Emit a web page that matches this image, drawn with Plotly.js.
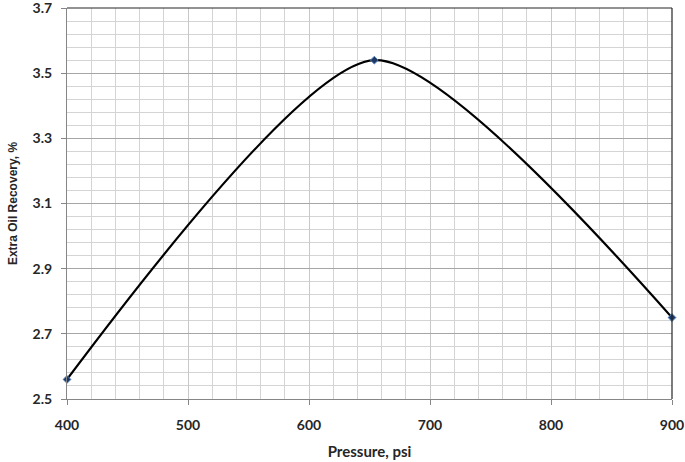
<!DOCTYPE html>
<html>
<head>
<meta charset="utf-8">
<script src="https://cdn.plot.ly/plotly-3.0.1.min.js"></script>
<style>
  html, body { margin: 0; padding: 0; background: #fff; }
  #chart { width: 685px; height: 462px; }
</style>
</head>
<body>
<div id="chart"></div>
<script>
  // pressure (psi) vs extra oil recovery (%)
  const pressure = [400, 654, 900];
  const recovery = [2.56, 3.54, 2.75];
  const xTicks = [400, 500, 600, 700, 800, 900];
  const yTicks = [2.5, 2.7, 2.9, 3.1, 3.3, 3.5, 3.7];
  const yTickText = ["2.5", "2.7", "2.9", "3.1", "3.3", "3.5", "3.7"];

  const FONT = "Lato, 'Open Sans', sans-serif";
  const TICK_FONT = { family: FONT, size: 14, color: "#262626", weight: "bold" };

  const trace = {
    x: pressure,
    y: recovery,
    type: "scatter",
    mode: "lines+markers",
    line: { shape: "spline", smoothing: 0.68, color: "#000", width: 2.2 },
    marker: { symbol: "diamond", size: 6, color: "#1f3864", line: { color: "#4f81bd", width: 1 } },
    cliponaxis: false,
    hoverinfo: "x+y",
  };

  const layout = {
    width: 685,
    height: 462,
    paper_bgcolor: "#fff",
    plot_bgcolor: "#fff",
    margin: { l: 67, r: 13, t: 8, b: 63 },
    showlegend: false,
    font: { family: FONT, color: "#262626" },
    xaxis: {
      range: [400, 900],
      tickmode: "array",
      tickvals: xTicks,
      ticks: "outside",
      ticklen: 5,
      tickcolor: "#868686",
      tickfont: TICK_FONT,
      ticklabelstandoff: 8,
      showline: true,
      linecolor: "#868686",
      linewidth: 1,
      showgrid: true,
      gridcolor: "#c8c8c8",
      zeroline: false,
      minor: { dtick: 20, showgrid: true, gridcolor: "#d4d4d4", gridwidth: 1 },
      title: { text: "Pressure, psi", font: { family: FONT, size: 15, color: "#262626", weight: "bold" }, standoff: 14 },
    },
    yaxis: {
      range: [2.5, 3.7001],
      tickmode: "array",
      tickvals: yTicks,
      ticktext: yTickText,
      ticks: "outside",
      ticklen: 5,
      tickcolor: "#868686",
      tickfont: TICK_FONT,
      ticklabelstandoff: 6,
      ticklabeloverflow: "allow",
      showline: true,
      linecolor: "#868686",
      linewidth: 1,
      showgrid: true,
      gridcolor: "#a6a6a6",
      zeroline: false,
      minor: { dtick: 0.04, tick0: 2.5, showgrid: true, gridcolor: "#d4d4d4", gridwidth: 1 },
      title: { text: "Extra Oil Recovery, %", font: { family: "'Liberation Sans', Arial, sans-serif", size: 12, color: "#262626", weight: "bold" }, standoff: 12 },
    },
    shapes: [
      { type: "line", xref: "paper", yref: "paper", x0: 0, x1: 1, y0: 1, y1: 1, line: { color: "#262626", width: 1.2 } },
      { type: "line", xref: "paper", yref: "paper", x0: 1, x1: 1, y0: 0, y1: 1, line: { color: "#262626", width: 1.2 } },
    ],
  };

  Plotly.newPlot("chart", [trace], layout, { displayModeBar: false, staticPlot: true });
</script>
</body>
</html>
